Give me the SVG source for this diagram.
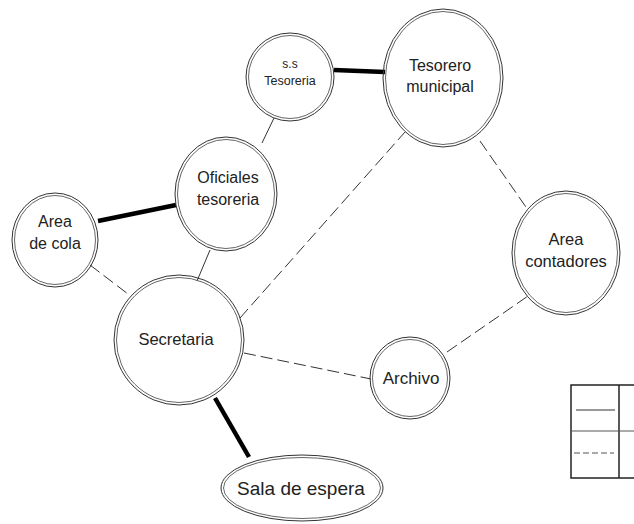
<svg xmlns="http://www.w3.org/2000/svg" width="634" height="524" viewBox="0 0 634 524">
<style>
.o{fill:none;stroke:#333;stroke-width:1}
.i{fill:none;stroke:#555;stroke-width:0.9}
.t{font-family:"Liberation Sans",Arial,sans-serif;fill:#222;text-anchor:middle}
.thin{stroke:#333;stroke-width:1;fill:none}
.dash{stroke:#333;stroke-width:1;fill:none;stroke-dasharray:12 5}
.thick{stroke:#000;stroke-width:4.5;fill:none}
</style>
<rect width="634" height="524" fill="#fff"/>
<g id="connectors">
<line class="thick" x1="334" y1="70" x2="385" y2="72"/>
<line class="thin" x1="274" y1="118" x2="262" y2="143"/>
<line class="thick" x1="98" y1="221" x2="176" y2="205"/>
<line class="dash" x1="90" y1="265" x2="128" y2="294"/>
<line class="thin" x1="210" y1="250" x2="197" y2="281"/>
<line class="dash" x1="240" y1="318" x2="405" y2="132"/>
<line class="dash" x1="244" y1="353" x2="371" y2="379"/>
<line class="dash" x1="480" y1="141" x2="528" y2="210"/>
<line class="dash" x1="447" y1="352" x2="528" y2="296"/>
<line class="thick" x1="215" y1="398" x2="249" y2="457"/>
</g>
<g id="n-ss">
<circle class="o" cx="290" cy="77" r="44"/><circle class="i" cx="290" cy="77" r="41.5"/>
<text class="t" x="290" y="68" font-size="12">s.s</text>
<text class="t" x="290" y="85" font-size="12.5">Tesoreria</text>
</g>
<g id="n-tesorero">
<ellipse class="o" cx="443" cy="78" rx="60" ry="69"/><ellipse class="i" cx="443" cy="78" rx="57.5" ry="66.5"/>
<text class="t" x="440" y="71" font-size="16">Tesorero</text>
<text class="t" x="440" y="92" font-size="16">municipal</text>
</g>
<g id="n-oficiales">
<ellipse class="o" cx="226" cy="194" rx="51" ry="57"/><ellipse class="i" cx="226" cy="194" rx="48.5" ry="54.5"/>
<text class="t" x="228" y="183" font-size="16">Oficiales</text>
<text class="t" x="228" y="205" font-size="16">tesoreria</text>
</g>
<g id="n-cola">
<ellipse class="o" cx="55" cy="240" rx="43" ry="47"/><ellipse class="i" cx="55" cy="240" rx="40.5" ry="44.5"/>
<text class="t" x="55" y="227" font-size="16">Area</text>
<text class="t" x="55" y="249" font-size="16">de cola</text>
</g>
<g id="n-secretaria">
<circle class="o" cx="179" cy="340" r="65"/><circle class="i" cx="179" cy="340" r="62.5"/>
<text class="t" x="176" y="345" font-size="16.5">Secretaria</text>
</g>
<g id="n-archivo">
<ellipse class="o" cx="410" cy="378" rx="40" ry="41"/><ellipse class="i" cx="410" cy="378" rx="37.5" ry="38.5"/>
<text class="t" x="411" y="384" font-size="17">Archivo</text>
</g>
<g id="n-contadores">
<ellipse class="o" cx="566" cy="253" rx="54" ry="62"/><ellipse class="i" cx="566" cy="253" rx="51.5" ry="59.5"/>
<text class="t" x="566" y="245" font-size="16.5">Area</text>
<text class="t" x="566" y="267" font-size="16.5">contadores</text>
</g>
<g id="n-sala">
<ellipse class="o" cx="302" cy="488" rx="81" ry="33"/><ellipse class="i" cx="302" cy="488" rx="78.5" ry="30.5"/>
<text class="t" x="301" y="495" font-size="19">Sala de espera</text>
</g>
<g id="legend">
<rect x="571" y="385" width="80" height="93" fill="none" stroke="#222" stroke-width="1.5"/>
<line x1="619" y1="385" x2="619" y2="478" stroke="#222" stroke-width="1.5"/>
<line x1="571" y1="431" x2="634" y2="431" stroke="#555" stroke-width="1"/>
<line x1="576" y1="410" x2="615" y2="410" stroke="#333" stroke-width="1.2"/>
<line x1="574" y1="453" x2="614" y2="453" stroke="#555" stroke-width="1.2" stroke-dasharray="6 3"/>
</g>
</svg>
